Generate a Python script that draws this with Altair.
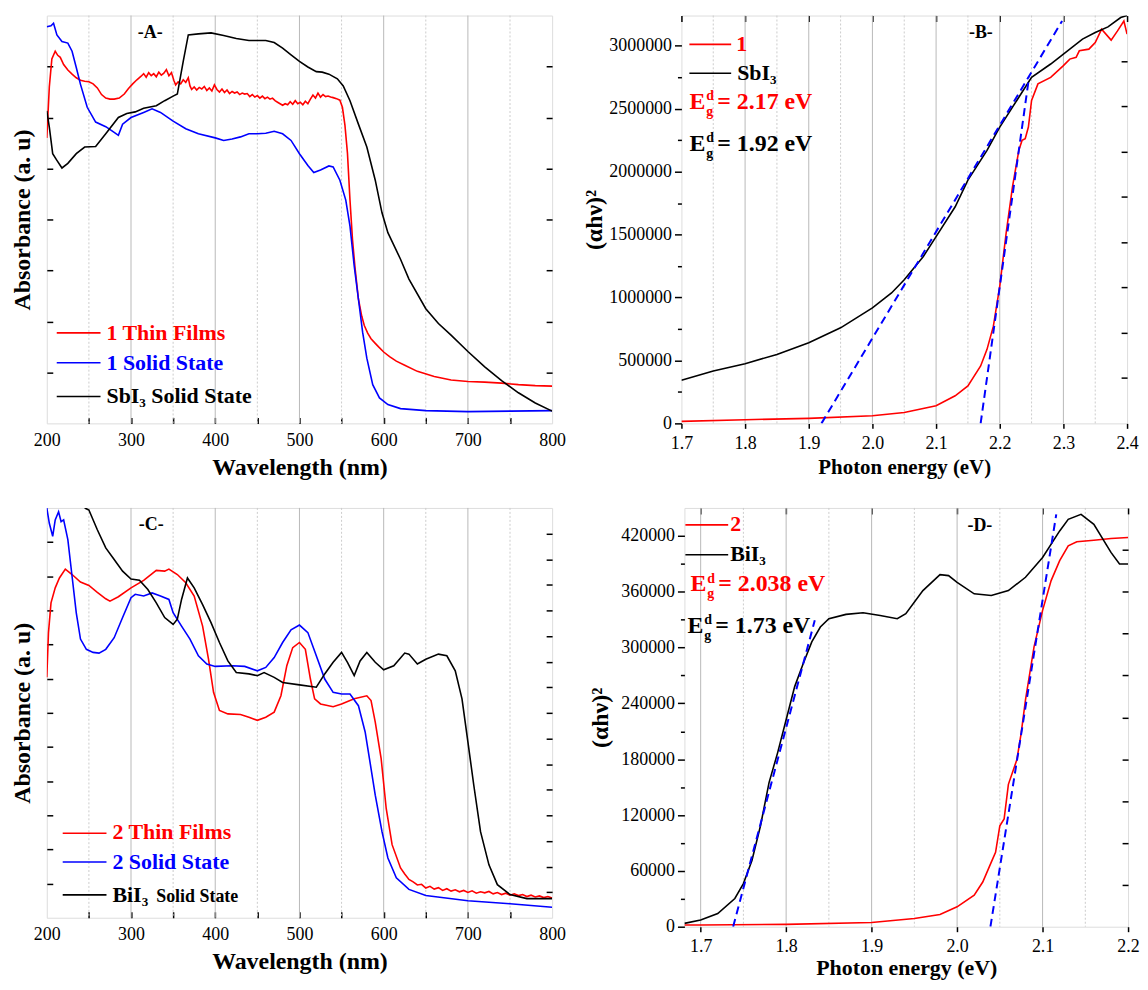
import altair as alt
import pandas as pd

FONT = "Liberation Serif"
RED, BLUE, BLACK = "#ff0000", "#0000ff", "#000000"

# ---------------- Panel A (absorbance, arbitrary units 0..8) ----------------
A_red_x = [200, 203, 206, 210, 213, 216, 220, 225, 230, 235, 240, 245, 250, 255, 260, 265, 270, 275, 280, 286,
           292, 297, 302, 307, 312, 315, 318, 321, 324, 327, 330, 333, 336, 339, 342, 345, 348, 351, 353, 356,
           359, 362, 365, 368, 370, 372, 375, 378, 381, 384, 387, 390, 393, 396, 399, 402, 405, 408, 411, 414,
           417, 420, 423, 426, 429, 432, 435, 438, 441, 444, 447, 450, 453, 456, 459, 462, 465, 468, 471, 474,
           477, 480, 483, 486, 489, 492, 495, 498, 501, 504, 507, 510, 513, 516, 519, 522, 525, 528, 531, 534,
           537, 540, 544, 548, 551, 554, 557, 560, 563, 566, 570, 574, 577, 581, 585, 590, 594, 600, 607, 615,
           625, 640, 660, 680, 700, 720, 740, 760, 780, 800]
A_red_y = [5.60, 6.60, 7.15, 7.30, 7.22, 7.18, 7.04, 6.93, 6.85, 6.78, 6.73, 6.71, 6.70, 6.66, 6.58, 6.45, 6.38, 6.36, 6.36, 6.38,
           6.46, 6.57, 6.66, 6.74, 6.81, 6.86, 6.79, 6.88, 6.82, 6.86, 6.80, 6.89, 6.83, 6.87, 6.94, 6.82, 6.88, 6.72, 6.64, 6.70,
           6.66, 6.74, 6.69, 6.78, 6.62, 6.55, 6.60, 6.54, 6.59, 6.56, 6.61, 6.53, 6.58, 6.52, 6.64, 6.55, 6.50, 6.56, 6.49, 6.54,
           6.47, 6.51, 6.48, 6.50, 6.45, 6.48, 6.46, 6.47, 6.41, 6.45, 6.40, 6.43, 6.38, 6.42, 6.37, 6.40, 6.36, 6.38, 6.33, 6.30,
           6.27, 6.24, 6.27, 6.25, 6.31, 6.26, 6.33, 6.27, 6.30, 6.25, 6.32, 6.27, 6.36, 6.44, 6.38, 6.48, 6.40, 6.45, 6.41, 6.42,
           6.40, 6.39, 6.37, 6.34, 6.20, 5.85, 5.30, 4.38, 3.60, 3.05, 2.44, 2.10, 1.92, 1.77, 1.66, 1.57, 1.50, 1.40, 1.31, 1.22,
           1.14, 1.02, 0.92, 0.85, 0.82, 0.81, 0.79, 0.76, 0.74, 0.73]

A_blue_x = [200, 205, 208, 212, 218, 225, 230, 235, 240, 248, 258, 270, 280, 285, 290, 300, 315, 325, 335, 350,
            365, 380, 400, 410, 420, 430, 440, 450, 460, 470, 480, 490, 500, 510, 517, 525, 535, 540, 548, 555,
            560, 565, 570, 575, 580, 587, 595, 605, 620, 650, 700, 750, 800]
A_blue_y = [7.78, 7.80, 7.85, 7.62, 7.49, 7.46, 7.30, 6.98, 6.65, 6.20, 5.91, 5.82, 5.71, 5.65, 5.87, 6.00, 6.10, 6.17, 6.10, 5.93,
            5.78, 5.68, 5.60, 5.55, 5.58, 5.62, 5.68, 5.68, 5.69, 5.73, 5.68, 5.55, 5.29, 5.06, 4.92, 4.97, 5.05, 5.03, 4.77, 4.38,
            3.87, 3.09, 2.44, 1.79, 1.28, 0.76, 0.50, 0.37, 0.29, 0.25, 0.23, 0.24, 0.25]

A_blk_x = [200, 203, 207, 212, 218, 225, 235, 245, 258, 270, 285, 295, 305, 315, 330, 340, 350, 355, 362, 368,
           380, 395, 410, 425, 440, 460, 470, 480, 490, 500, 510, 520, 527, 535, 545, 552, 560, 570, 580, 590,
           598, 605, 620, 630, 650, 665, 680, 700, 720, 740, 760, 780, 800]
A_blk_y = [6.13, 5.81, 5.29, 5.16, 5.01, 5.10, 5.29, 5.42, 5.43, 5.68, 6.00, 6.08, 6.11, 6.18, 6.23, 6.33, 6.42, 6.46, 7.10, 7.62,
           7.64, 7.66, 7.61, 7.55, 7.51, 7.51, 7.47, 7.36, 7.23, 7.10, 6.99, 6.90, 6.89, 6.85, 6.76, 6.62, 6.33, 5.87, 5.42, 4.77,
           4.13, 3.74, 3.22, 2.83, 2.25, 1.96, 1.73, 1.41, 1.11, 0.84, 0.60, 0.40, 0.24]

# ---------------- Panel B ((alpha h nu)^2 vs photon energy) ----------------
B_red_x = [1.70, 1.80, 1.90, 2.00, 2.05, 2.10, 2.13, 2.15, 2.17, 2.18, 2.19, 2.20, 2.21, 2.22, 2.23, 2.235, 2.24, 2.245,
           2.25, 2.26, 2.28, 2.30, 2.31, 2.32, 2.325, 2.34, 2.35, 2.36, 2.375, 2.385, 2.395, 2.40]
B_red_y = [16000, 29000, 40000, 61000, 87000, 140000, 219000, 298000, 456000, 588000, 772000, 1089000, 1510000, 1879000,
           2169000, 2248000, 2262000, 2354000, 2565000, 2697000, 2749000, 2842000, 2894000, 2908000, 2960000, 2973000,
           3026000, 3132000, 3045000, 3118000, 3197000, 3092000]
B_blk_x = [1.70, 1.75, 1.80, 1.85, 1.90, 1.95, 2.00, 2.03, 2.05, 2.08, 2.10, 2.13, 2.15, 2.18, 2.20, 2.23, 2.25, 2.28,
           2.30, 2.33, 2.35, 2.37, 2.39, 2.40]
B_blk_y = [342700, 416500, 474000, 548000, 640500, 759000, 917000, 1036000, 1141000, 1326000, 1484000, 1721000, 1932000,
           2169000, 2354000, 2591000, 2749000, 2855000, 2934000, 3053000, 3105000, 3150000, 3224000, 3240000]
B_tan1_x = [1.92, 2.298]
B_tan1_y = [0, 3197000]
B_tan2_x = [2.17, 2.246]
B_tan2_y = [0, 2749000]

# ---------------- Panel C (absorbance, arbitrary units 0..12) ----------------
C_red_x = [200, 202, 205, 210, 215, 222, 230, 240, 250, 260, 270, 275, 285, 300, 315, 330, 340, 345, 355, 365,
           375, 385, 392, 398, 405, 415, 430, 440, 450, 460, 470, 478, 485, 492, 500, 507, 513, 518, 525, 540,
           550, 565, 580, 585, 590, 597, 603, 610, 620, 625, 630, 635, 640, 645, 650, 655, 660, 665, 670, 675,
           680, 685, 690, 695, 700, 705, 710, 715, 720, 725, 730, 735, 740, 745, 750, 755, 760, 765, 770, 775,
           780, 785, 790, 795, 800]
C_red_y = [7.04, 8.35, 9.22, 9.66, 9.95, 10.21, 10.05, 9.83, 9.73, 9.53, 9.34, 9.27, 9.40, 9.66, 9.88, 10.17, 10.15, 10.21, 10.05, 9.81,
           9.42, 8.54, 7.57, 6.60, 6.07, 5.97, 5.95, 5.87, 5.78, 5.87, 6.02, 6.50, 7.38, 7.91, 8.06, 7.86, 6.99, 6.41, 6.26, 6.18,
           6.26, 6.41, 6.50, 6.36, 5.73, 4.66, 3.20, 2.14, 1.46, 1.28, 1.12, 1.05, 0.96, 0.98, 0.87, 0.92, 0.84, 0.88, 0.80, 0.85,
           0.78, 0.82, 0.76, 0.80, 0.74, 0.79, 0.72, 0.76, 0.73, 0.77, 0.70, 0.74, 0.68, 0.72, 0.66, 0.70, 0.65, 0.68, 0.62, 0.66,
           0.61, 0.64, 0.59, 0.62, 0.58]
C_blue_x = [200, 203, 207, 210, 214, 217, 220, 225, 230, 235, 240, 247, 255, 262, 270, 280, 290, 300, 305, 315,
            325, 335, 345, 350, 360, 370, 380, 390, 400, 420, 435, 450, 460, 470, 480, 490, 500, 510, 520, 530,
            540, 550, 560, 570, 578, 585, 590, 598, 605, 615, 630, 650, 700, 750, 800]
C_blue_y = [12.0, 11.55, 11.17, 11.65, 11.89, 11.60, 11.65, 11.07, 10.00, 8.93, 8.16, 7.86, 7.77, 7.75, 7.86, 8.20, 8.79, 9.37, 9.47, 9.42,
            9.51, 9.42, 9.32, 8.93, 8.54, 8.16, 7.67, 7.43, 7.36, 7.38, 7.36, 7.23, 7.33, 7.62, 8.06, 8.43, 8.57, 8.35, 7.67, 6.99,
            6.60, 6.55, 6.55, 6.21, 5.44, 4.37, 3.59, 2.52, 1.75, 1.17, 0.83, 0.65, 0.50, 0.41, 0.31]
C_blk_x = [245, 250, 260, 270, 280, 290, 300, 310, 320, 330, 340, 350, 355, 360, 367, 375, 385, 395, 405, 415,
           425, 440, 450, 458, 470, 480, 500, 520, 530, 540, 550, 557, 565, 572, 580, 590, 600, 612, 625, 630,
           640, 650, 665, 675, 685, 693, 700, 707, 715, 725, 735, 750, 770, 800]
C_blk_y = [12.0, 11.94, 11.36, 10.83, 10.49, 10.15, 9.92, 9.88, 9.61, 9.22, 8.79, 8.59, 8.74, 9.32, 9.95, 9.66, 9.17, 8.64, 8.06, 7.52,
           7.18, 7.14, 7.09, 7.18, 7.04, 6.89, 6.82, 6.75, 7.14, 7.48, 7.77, 7.48, 7.09, 7.52, 7.77, 7.48, 7.26, 7.38, 7.75, 7.72,
           7.43, 7.57, 7.72, 7.67, 7.23, 6.41, 5.15, 3.88, 2.52, 1.55, 0.97, 0.68, 0.56, 0.56]

# ---------------- Panel D ----------------
D_red_x = [1.681, 1.70, 1.80, 1.90, 1.95, 1.98, 2.00, 2.02, 2.03, 2.04, 2.045, 2.05, 2.055, 2.06, 2.07, 2.075, 2.08,
           2.09, 2.10, 2.11, 2.12, 2.13, 2.14, 2.16, 2.18, 2.20]
D_red_y = [1800, 1800, 2500, 4600, 8900, 13200, 21400, 33800, 48000, 69400, 80000, 108500, 115700, 153000, 179700,
           208200, 243800, 300700, 339900, 371900, 393300, 409300, 413600, 415300, 417100, 418200]
D_blk_x = [1.681, 1.70, 1.72, 1.74, 1.75, 1.76, 1.77, 1.78, 1.79, 1.80, 1.81, 1.82, 1.83, 1.84, 1.85, 1.87, 1.89,
           1.91, 1.93, 1.94, 1.96, 1.98, 1.99, 2.00, 2.02, 2.04, 2.06, 2.08, 2.10, 2.12, 2.13, 2.145, 2.16, 2.18,
           2.19, 2.20]
D_blk_y = [3560, 7100, 14200, 30300, 46300, 71200, 108500, 154800, 186800, 222400, 258000, 282900, 306000, 322000,
           331000, 335600, 337400, 334500, 331000, 336300, 361200, 378300, 377300, 370100, 357700, 355900, 361200,
           375500, 396800, 425300, 437800, 443100, 432400, 402200, 389700, 389700]
D_tan1_x = [1.738, 1.8335]
D_tan1_y = [0, 329200]
D_tan2_x = [2.039, 2.116]
D_tan2_y = [0, 443100]

# ---------------- tick / grid definitions ----------------
WL_TICKS = [200, 300, 400, 500, 600, 700, 800]
WL_MINOR = [250, 300, 350, 400, 450, 500, 550, 600, 650, 700, 750]
WL_GRID = [300, 400, 500, 600, 700]
WL_GRID_MINOR = [250, 350, 450, 550, 650, 750]
B_XTICKS = [1.7, 1.8, 1.9, 2.0, 2.1, 2.2, 2.3, 2.4]
B_GRID = [1.8, 1.9, 2.0, 2.1, 2.2, 2.3]
B_GRID_MINOR = [1.75, 1.85, 1.95, 2.05, 2.15, 2.25, 2.35]
B_YTICKS = [0, 500000, 1000000, 1500000, 2000000, 2500000, 3000000]
B_YMINOR = [250000, 750000, 1250000, 1750000, 2250000, 2750000]
B_RIGHT = [360000, 720000, 1080000, 1440000, 1800000, 2160000, 2520000, 2880000]
D_XTICKS = [1.7, 1.8, 1.9, 2.0, 2.1, 2.2]
D_GRID = [1.7, 1.8, 1.9, 2.0, 2.1]
D_GRID_MINOR = [1.75, 1.85, 1.95, 2.05, 2.15]
D_YTICKS = [0, 60000, 120000, 180000, 240000, 300000, 360000, 420000]
D_YMINOR = [30000, 90000, 150000, 210000, 270000, 330000, 390000]
D_RIGHT = [45000, 90000, 135000, 180000, 225000, 270000, 315000, 360000, 405000]
A_YTICKS = [1, 2, 3, 4, 5, 6, 7]
C_YTICKS = [1, 2, 3, 4, 5, 6, 7, 8, 9, 10, 11]
C_RIGHT = [0.75, 1.5, 2.25, 3, 3.75, 4.5, 5.25, 6, 6.75, 7.5, 8.25, 9, 9.75, 10.5, 11.25]

DUMMY = pd.DataFrame({"d": [0]})


def txt(s, x, y, size=22, color=BLACK, weight="bold", align="left", baseline="alphabetic"):
    return alt.Chart(DUMMY).mark_text(
        text=s, font=FONT, fontSize=size, fontWeight=weight, color=color, align=align, baseline=baseline
    ).encode(x=alt.value(x), y=alt.value(y))


def seg(x1, x2, y, color):
    return alt.Chart(DUMMY).mark_rule(color=color, strokeWidth=1.6).encode(
        x=alt.value(x1), x2=alt.value(x2), y=alt.value(y))


def eg(x, y, color, value, size=24):
    return [
        txt("E", x, y, size, color),
        txt("d", x + 17, y - 9, 14, color),
        txt("g", x + 17, y + 7, 14, color),
        txt(value, x + 28, y, size, color),
    ]


def mk_axis(orient, **kw):
    base = dict(orient=orient, grid=False, domain=False, tickColor=BLACK, tickWidth=1.5,
                labelFont=FONT, labelColor=BLACK, titleFont=FONT, titleColor=BLACK,
                titleFontWeight="bold")
    base.update(kw)
    return alt.Axis(**base)


def panel(series, xdom, ydom, w, h, xaxis, yaxis, xtitle, ytitle, extra_axes, gmaj, gmin, tangents, annots):
    xs = alt.Scale(domain=xdom, nice=False, zero=False)
    ys = alt.Scale(domain=ydom, nice=False, zero=False)
    rows = []
    for name, color, xv, yv in series:
        for i, (a, b) in enumerate(zip(xv, yv)):
            rows.append({"x": a, "y": b, "s": name, "c": color, "i": i})
    df = pd.DataFrame(rows)
    layers = [
        alt.Chart(pd.DataFrame({"g": gmaj})).mark_rule(color="#b8b8b8", strokeWidth=1).encode(
            x=alt.X("g:Q", scale=xs, axis=None)),
        alt.Chart(pd.DataFrame({"g": gmin})).mark_rule(color="#cccccc", strokeWidth=1, strokeDash=[2, 2]).encode(
            x=alt.X("g:Q", scale=xs, axis=None)),
        alt.Chart(df).mark_line(strokeWidth=1.6, clip=True).encode(
            x=alt.X("x:Q", scale=xs, axis=xaxis, title=xtitle),
            y=alt.Y("y:Q", scale=ys, axis=yaxis, title=ytitle),
            color=alt.Color("c:N", scale=None),
            detail="s:N",
            order="i:Q"),
    ]
    if tangents:
        trows = []
        for k, (tx, ty) in enumerate(tangents):
            for i, (a, b) in enumerate(zip(tx, ty)):
                trows.append({"x": a, "y": b, "k": k, "i": i})
        layers.append(alt.Chart(pd.DataFrame(trows)).mark_line(
            color=BLUE, strokeWidth=2, strokeDash=[8, 5], clip=True).encode(
            x=alt.X("x:Q", scale=xs, axis=None),
            y=alt.Y("y:Q", scale=ys, axis=None),
            detail="k:N", order="i:Q"))
    for ax_x, ax_y in extra_axes:
        enc = {}
        enc["x"] = alt.X("x:Q", scale=xs, axis=ax_x, title=None) if ax_x is not None else alt.X("x:Q", scale=xs, axis=None)
        enc["y"] = alt.Y("y:Q", scale=ys, axis=ax_y, title=None) if ax_y is not None else alt.Y("y:Q", scale=ys, axis=None)
        layers.append(alt.Chart(df).mark_line(opacity=0, clip=True).encode(detail="s:N", **enc))
    layers.extend(annots)
    return alt.layer(*layers).properties(width=w, height=h)


def inward(orient, values, size=6):
    return mk_axis(orient, values=values, labels=False, ticks=True, tickSize=size, offset=-size)


def wl_axis():
    return mk_axis("bottom", values=WL_TICKS, format="d", ticks=False, labelFontSize=18, labelPadding=8,
                   labelFlush=False, labelOverlap=False, titleFontSize=24, titlePadding=6)


# ---------------- build panels ----------------
A = panel(
    [("1 Thin Films", RED, A_red_x, A_red_y), ("1 Solid State", BLUE, A_blue_x, A_blue_y),
     ("SbI3 Solid State", BLACK, A_blk_x, A_blk_y)],
    [200, 800], [0, 8], 508, 410,
    wl_axis(),
    mk_axis("left", values=A_YTICKS, labels=False, ticks=False, titleFontSize=24, titlePadding=12),
    "Wavelength (nm)", "Absorbance (a. u)",
    [(mk_axis("top", values=WL_TICKS, labels=False, ticks=False), inward("right", A_YTICKS)),
     (inward("bottom", WL_MINOR), inward("left", A_YTICKS))],
    WL_GRID, WL_GRID_MINOR, None,
    [txt("-A-", 104, 23, 18, align="center"),
     seg(10, 54, 319, RED), txt("1 Thin Films", 60, 326, 22, RED),
     seg(10, 54, 349, BLUE), txt("1 Solid State", 60, 356, 22, BLUE),
     seg(10, 54, 383, BLACK), txt("SbI₃ Solid State", 60, 390, 22, BLACK)],
)

B = panel(
    [("1", RED, B_red_x, B_red_y), ("SbI3", BLACK, B_blk_x, B_blk_y)],
    [1.7, 2.4], [0, 3240000], 448, 410,
    mk_axis("bottom", values=B_XTICKS, format=".1f", tickSize=5, labelFontSize=18, labelPadding=6,
            labelFlush=False, labelOverlap=False, titleFontSize=21, titlePadding=4),
    mk_axis("left", values=B_YTICKS, format="d", tickSize=7, labelFontSize=18, labelPadding=3,
            labelOverlap=False, titleFontSize=24, titlePadding=2),
    "Photon energy (eV)", "(αhν)²",
    [(inward("top", B_XTICKS), inward("right", B_RIGHT)),
     (None, mk_axis("left", values=B_YMINOR, labels=False, ticks=True, tickSize=4))],
    B_GRID, B_GRID_MINOR, [(B_tan1_x, B_tan1_y), (B_tan2_x, B_tan2_y)],
    [txt("-B-", 301, 23, 18, align="center"),
     seg(8, 50, 29, RED), txt("1", 55, 36, 22, RED),
     seg(8, 50, 58, BLACK), txt("SbI₃", 56, 65, 22, BLACK)]
    + eg(8, 94, RED, "= 2.17 eV") + eg(8, 136, BLACK, "= 1.92 eV"),
)

C = panel(
    [("2 Thin Films", RED, C_red_x, C_red_y), ("2 Solid State", BLUE, C_blue_x, C_blue_y),
     ("BiI3 Solid State", BLACK, C_blk_x, C_blk_y)],
    [200, 800], [0, 12], 508, 412,
    wl_axis(),
    mk_axis("left", values=C_YTICKS, labels=False, ticks=False, titleFontSize=24, titlePadding=12),
    "Wavelength (nm)", "Absorbance (a. u)",
    [(mk_axis("top", values=WL_TICKS, labels=False, ticks=False), inward("right", C_RIGHT)),
     (inward("bottom", WL_MINOR), inward("left", C_YTICKS))],
    WL_GRID, WL_GRID_MINOR, None,
    [txt("-C-", 105, 22, 18, align="center"),
     seg(16, 60, 327, RED), txt("2 Thin Films", 66, 333, 22, RED),
     seg(16, 60, 356, BLUE), txt("2 Solid State", 66, 363, 22, BLUE),
     seg(16, 60, 389, BLACK), txt("BiI₃", 66, 396, 22, BLACK), txt("Solid State", 110, 396, 18, BLACK)],
)

D = panel(
    [("2", RED, D_red_x, D_red_y), ("BiI3", BLACK, D_blk_x, D_blk_y)],
    [1.681, 2.2], [0, 450000], 446, 421,
    mk_axis("bottom", values=D_XTICKS, format=".1f", tickSize=5, labelFontSize=18, labelPadding=6,
            labelFlush=False, labelOverlap=False, titleFontSize=22, titlePadding=2),
    mk_axis("left", values=D_YTICKS, format="d", tickSize=7, labelFontSize=18, labelPadding=3,
            labelOverlap=False, titleFontSize=24, titlePadding=8),
    "Photon energy (eV)", "(αhν)²",
    [(inward("top", D_XTICKS), inward("right", D_RIGHT)),
     (None, mk_axis("left", values=D_YMINOR, labels=False, ticks=True, tickSize=4))],
    D_GRID, D_GRID_MINOR, [(D_tan1_x, D_tan1_y), (D_tan2_x, D_tan2_y)],
    [txt("-D-", 297, 23, 18, align="center"),
     seg(1, 44, 17, RED), txt("2", 46, 23, 22, RED),
     seg(1, 44, 47, BLACK), txt("BiI₃", 46, 53, 22, BLACK)]
    + eg(6, 84, RED, "= 2.038 eV") + eg(3, 126, BLACK, "= 1.73 eV"),
)

row1 = alt.hconcat(A, B, spacing=16)
row2 = alt.hconcat(C, D, spacing=22)
chart = alt.vconcat(row1, row2, spacing=26).properties(
    padding={"left": 2, "top": 3, "right": 0, "bottom": 0}
).configure_view(stroke=BLACK, strokeWidth=1.5).configure(font=FONT, background="white")

chart.save("out.html", embed_options={"renderer": "svg", "actions": False})
